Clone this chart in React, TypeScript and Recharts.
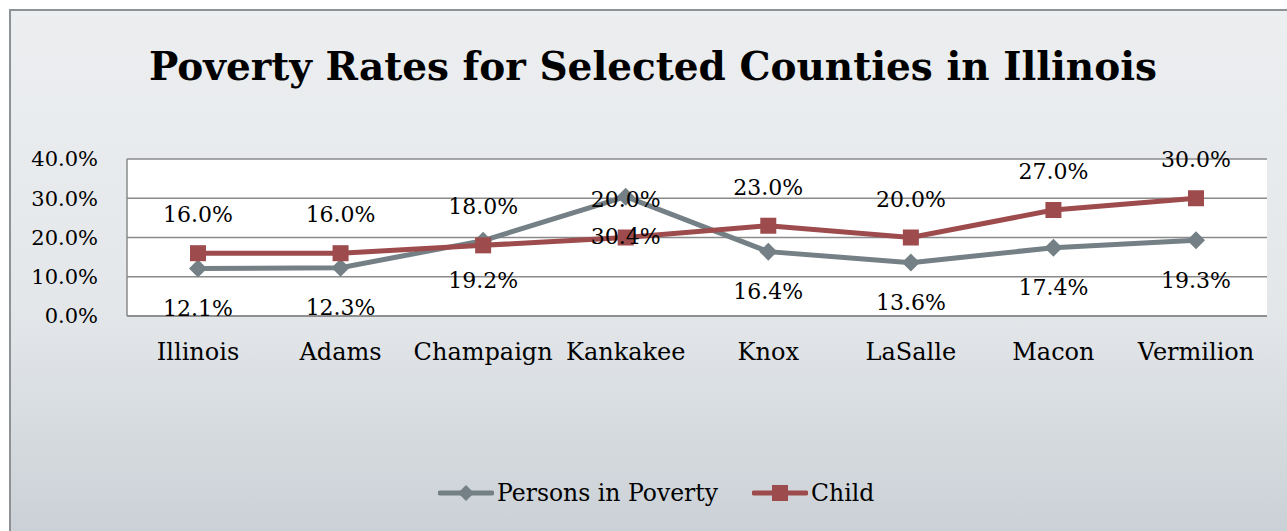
import React from 'react'
import { LineChart, Line, XAxis, YAxis, CartesianGrid, LabelList } from 'recharts'

const counties = ['Illinois', 'Adams', 'Champaign', 'Kankakee', 'Knox', 'LaSalle', 'Macon', 'Vermilion']
const personsInPoverty = [12.1, 12.3, 19.2, 30.4, 16.4, 13.6, 17.4, 19.3]
const childPoverty = [16.0, 16.0, 18.0, 20.0, 23.0, 20.0, 27.0, 30.0]
const yTicks = [0, 10, 20, 30, 40]

const GRAY = '#748085'
const RED = '#9d4b4c'
const FONT = '"DejaVu Serif", serif'

const data = counties.map((county, i) => ({
    county,
    persons: personsInPoverty[i],
    child: childPoverty[i],
}))

const pct = (v: number) => `${v.toFixed(1)}%`

const Diamond = (props: any) => {
    const { cx, cy } = props
    if (cx == null || cy == null) return null
    const r = 9
    return <path d={`M${cx},${cy - r}L${cx + r},${cy}L${cx},${cy + r}L${cx - r},${cy}Z`} fill={GRAY} />
}

const Square = (props: any) => {
    const { cx, cy } = props
    if (cx == null || cy == null) return null
    const s = 8
    return <rect x={cx - s} y={cy - s} width={s * 2} height={s * 2} fill={RED} />
}

export default function App() {
    return (
        <div style={{ position: 'fixed', left: 0, top: 0, width: 1287, height: 531, background: '#fff', overflow: 'hidden' }}>
            <div
                style={{
                    position: 'absolute',
                    left: 9,
                    top: 9,
                    width: 1300,
                    height: 540,
                    border: '2px solid #8d9297',
                    background: 'linear-gradient(to bottom, #eceef0 0%, #e4e7ea 55%, #c8cfd4 100%)',
                }}
            />
            <div
                style={{
                    position: 'absolute',
                    left: 0,
                    width: 1306,
                    top: 43,
                    textAlign: 'center',
                    fontFamily: FONT,
                    fontWeight: 'bold',
                    fontSize: 39,
                    color: '#000',
                }}
            >
                Poverty Rates for Selected Counties in Illinois
            </div>
            <div style={{ position: 'absolute', left: 0, top: 0 }}>
                <LineChart width={1287} height={531} data={data} margin={{ top: 159, right: 20, bottom: 185, left: 27 }}>
                    <CartesianGrid vertical={false} stroke="#8a8a8a" strokeWidth={1.5} fill="#ffffff" />
                    <XAxis
                        dataKey="county"
                        height={30}
                        padding={{ left: 71, right: 71 }}
                        tickLine={false}
                        tickSize={0}
                        tickMargin={27}
                        axisLine={{ stroke: '#8a8a8a', strokeWidth: 1.5 }}
                        tick={{ fill: '#000', fontSize: 24, fontFamily: FONT }}
                        interval={0}
                    />
                    <YAxis
                        width={100}
                        domain={[0, 40]}
                        ticks={yTicks}
                        tickFormatter={pct}
                        tickLine={false}
                        tickSize={0}
                        tickMargin={29}
                        axisLine={{ stroke: '#8a8a8a', strokeWidth: 1.5 }}
                        tick={{ fill: '#000', fontSize: 21, fontFamily: FONT }}
                    />
                    <Line
                        dataKey="persons"
                        stroke={GRAY}
                        strokeWidth={5}
                        dot={<Diamond />}
                        activeDot={false}
                        isAnimationActive={false}
                    >
                        <LabelList dataKey="persons" position="bottom" offset={32} formatter={pct} fill="#000" fontSize={22} fontFamily={FONT} />
                    </Line>
                    <Line
                        dataKey="child"
                        stroke={RED}
                        strokeWidth={5}
                        dot={<Square />}
                        activeDot={false}
                        isAnimationActive={false}
                    >
                        <LabelList dataKey="child" position="top" offset={31} formatter={pct} fill="#000" fontSize={22} fontFamily={FONT} />
                    </Line>
                </LineChart>
            </div>
            <div
                style={{
                    position: 'absolute',
                    top: 479,
                    left: 438,
                    display: 'flex',
                    alignItems: 'center',
                    fontFamily: FONT,
                    fontSize: 23.5,
                    color: '#000',
                }}
            >
                <svg width={56} height={20} style={{ marginRight: 3 }}>
                    <line x1={2} y1={10} x2={54} y2={10} stroke={GRAY} strokeWidth={5} strokeLinecap="round" />
                    <path d="M28,2L36,10L28,18L20,10Z" fill={GRAY} />
                </svg>
                <span>Persons in Poverty</span>
                <svg width={56} height={20} style={{ marginLeft: 34, marginRight: 3 }}>
                    <line x1={2} y1={10} x2={54} y2={10} stroke={RED} strokeWidth={5} strokeLinecap="round" />
                    <rect x={20} y={2} width={16} height={16} fill={RED} />
                </svg>
                <span>Child</span>
            </div>
        </div>
    )
}
